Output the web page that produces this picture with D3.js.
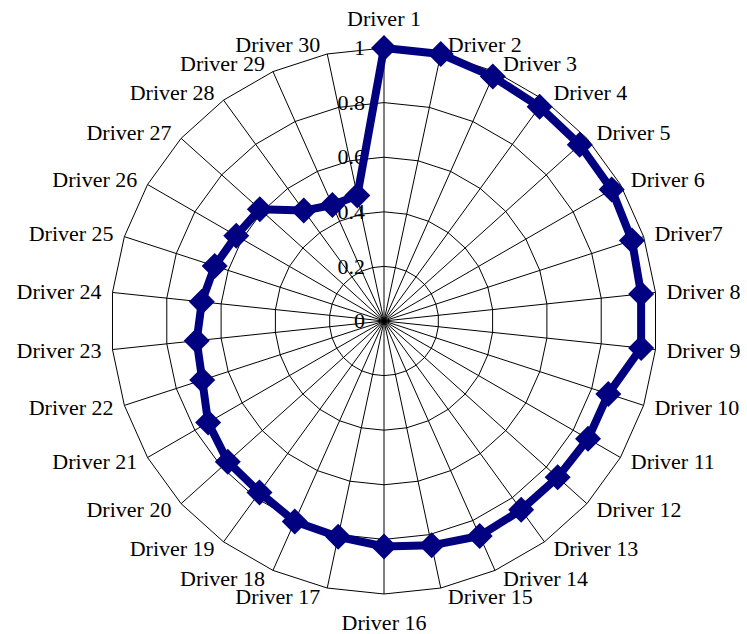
<!DOCTYPE html>
<html>
<head>
<meta charset="utf-8">
<script src="https://cdn.jsdelivr.net/npm/d3@7"></script>
<style>
  html, body { margin: 0; padding: 0; background: #fff; }
  svg text { font-family: "Liberation Serif", "Times New Roman", serif; font-size: 22px; fill: #000; }
</style>
</head>
<body>
<svg id="chart" width="747" height="634"></svg>
<script>
// Driver names, one per spoke, clockwise from the top
const drivers = [
  "Driver 1", "Driver 2", "Driver 3", "Driver 4", "Driver 5", "Driver 6",
  "Driver7", "Driver 8", "Driver 9", "Driver 10", "Driver 11", "Driver 12",
  "Driver 13", "Driver 14", "Driver 15", "Driver 16", "Driver 17", "Driver 18",
  "Driver 19", "Driver 20", "Driver 21", "Driver 22", "Driver 23", "Driver 24",
  "Driver 25", "Driver 26", "Driver 27", "Driver 28", "Driver 29", "Driver 30"
];

// Score of each driver
const scores = [
  1.0, 1.0, 0.98, 0.97, 0.965, 0.963,
  0.955, 0.947, 0.947, 0.864, 0.863, 0.856,
  0.855, 0.862, 0.84, 0.826, 0.808, 0.804,
  0.776, 0.77, 0.744, 0.70, 0.69, 0.671,
  0.652, 0.625, 0.612, 0.50, 0.465, 0.47
];

// Value axis ticks and their labels
const ticks = [0, 0.2, 0.4, 0.6, 0.8, 1];
const tickLabels = ["0", "0.2", "0.4", "0.6", "0.8", "1"];

const svg = d3.select("#chart");
const cx = 384, cy = 321, R = 273;

const g = svg.append("g").attr("transform", `translate(${cx},${cy})`);

const r = d3.scaleLinear().domain([0, 1]).range([0, R]);
const angle = d3.scaleLinear().domain([0, drivers.length]).range([0, 2 * Math.PI]);

const px = (i, v) => r(v) * Math.sin(angle(i));
const py = (i, v) => -r(v) * Math.cos(angle(i));

// Spokes
g.append("g").selectAll("line")
  .data(drivers)
  .join("line")
  .attr("x1", 0).attr("y1", 0)
  .attr("x2", (d, i) => px(i, 1))
  .attr("y2", (d, i) => py(i, 1))
  .attr("stroke", "#000")
  .attr("stroke-width", 1);

// Polygonal grid rings
const ringLine = d3.lineRadial()
  .angle((d, i) => angle(i))
  .curve(d3.curveLinearClosed);

g.append("g").selectAll("path")
  .data(ticks.filter(t => t > 0))
  .join("path")
  .attr("d", t => ringLine.radius(() => r(t))(drivers))
  .attr("fill", "none")
  .attr("stroke", "#000")
  .attr("stroke-width", 1);

// Value axis labels beside the first spoke
g.append("g").selectAll("text")
  .data(ticks)
  .join("text")
  .attr("x", -19)
  .attr("y", t => -r(t))
  .attr("dy", "0.33em")
  .attr("text-anchor", "end")
  .text((t, i) => tickLabels[i]);

// Category labels around the outside
g.append("g").selectAll("text")
  .data(drivers)
  .join("text")
  .each(function (d, i) {
    const s = Math.sin(angle(i)), c = Math.cos(angle(i));
    const x0 = px(i, 1), y0 = py(i, 1);
    const sel = d3.select(this);
    if (Math.abs(s) < 0.01) {
      sel.attr("x", x0)
        .attr("y", y0 - Math.sign(c) * 29)
        .attr("text-anchor", "middle");
    } else {
      sel.attr("x", x0 + Math.sign(s) * (6 + 5 * Math.abs(s)))
        .attr("y", y0 - c * 9)
        .attr("text-anchor", s > 0 ? "start" : "end");
    }
    sel.attr("dy", "0.33em").text(d);
  });

// Data series
const seriesLine = d3.lineRadial()
  .angle((d, i) => angle(i))
  .radius(d => r(d))
  .curve(d3.curveLinearClosed);

g.append("path")
  .datum(scores)
  .attr("d", seriesLine)
  .attr("fill", "none")
  .attr("stroke", "#000080")
  .attr("stroke-width", 8)
  .attr("stroke-linejoin", "round");

const diamond = d3.symbol(d3.symbolSquare, 338);
g.append("g").selectAll("path")
  .data(scores)
  .join("path")
  .attr("d", diamond)
  .attr("transform", (d, i) => `translate(${px(i, d)},${py(i, d)}) rotate(45)`)
  .attr("fill", "#000080");
</script>
</body>
</html>
